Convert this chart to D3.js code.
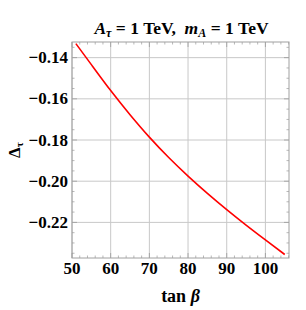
<!DOCTYPE html>
<html>
<head>
<meta charset="utf-8">
<script src="https://cdn.jsdelivr.net/npm/d3@7"></script>
<style>
  body { margin: 0; background: #fff; }
  text { font-family: "Liberation Serif", "DejaVu Serif", serif; font-weight: bold; }
</style>
</head>
<body>
<svg id="chart" width="306" height="310"></svg>
<script>
// curve
const tanBeta = [51, 55, 60, 65, 70, 75, 80, 85, 90, 95, 100, 105];
const deltaTau = [-0.1332, -0.1434, -0.156, -0.1677, -0.1786, -0.1885, -0.1975, -0.2059, -0.2138, -0.2213, -0.2285, -0.2356];

const xTicks = [50, 60, 70, 80, 90, 100];
const yTicks = [-0.14, -0.16, -0.18, -0.20, -0.22];

const svg = d3.select("#chart");
const margin = { top: 42, right: 17, bottom: 52, left: 72 };
const width = 306 - margin.left - margin.right;
const height = 310 - margin.top - margin.bottom;

const x = d3.scaleLinear().domain([50, 106.1]).range([0, width]);
const y = d3.scaleLinear().domain([-0.2373, -0.1324]).range([height, 0]);

const g = svg.append("g").attr("transform", `translate(${margin.left},${margin.top})`);

// grid
g.selectAll("line.gx").data(xTicks).enter().append("line")
  .attr("x1", d => x(d)).attr("x2", d => x(d))
  .attr("y1", 0).attr("y2", height)
  .attr("stroke", "#c8c8c8").attr("stroke-width", 1);
g.selectAll("line.gy").data(yTicks).enter().append("line")
  .attr("y1", d => y(d)).attr("y2", d => y(d))
  .attr("x1", 0).attr("x2", width)
  .attr("stroke", "#c8c8c8").attr("stroke-width", 1);

// minor + major ticks, all four sides, pointing inward
const xMinor = d3.range(50, 107, 2);
const yMinor = d3.range(-0.235, -0.13, 0.005);
function isMajor(v, list) { return list.some(t => Math.abs(t - v) < 1e-6); }

xMinor.forEach(v => {
  const len = isMajor(v, xTicks) ? 5 : 2.5;
  g.append("line").attr("x1", x(v)).attr("x2", x(v)).attr("y1", height).attr("y2", height - len)
    .attr("stroke", "#888").attr("stroke-width", 0.6);
  g.append("line").attr("x1", x(v)).attr("x2", x(v)).attr("y1", 0).attr("y2", len)
    .attr("stroke", "#888").attr("stroke-width", 0.6);
});
yMinor.forEach(v => {
  const len = isMajor(v, yTicks) ? 5 : 2.5;
  g.append("line").attr("x1", 0).attr("x2", len).attr("y1", y(v)).attr("y2", y(v))
    .attr("stroke", "#888").attr("stroke-width", 0.6);
  g.append("line").attr("x1", width).attr("x2", width - len).attr("y1", y(v)).attr("y2", y(v))
    .attr("stroke", "#888").attr("stroke-width", 0.6);
});

// frame
g.append("rect").attr("x", 0).attr("y", 0).attr("width", width).attr("height", height)
  .attr("fill", "none").attr("stroke", "#a0a0a0").attr("stroke-width", 1);

// tick labels
g.selectAll("text.xl").data(xTicks).enter().append("text")
  .attr("x", d => x(d)).attr("y", height + 16)
  .attr("text-anchor", "middle").style("font-size", "17px")
  .text(d => d);
g.selectAll("text.yl").data(yTicks).enter().append("text")
  .attr("x", -4).attr("y", d => y(d) + 5.5)
  .attr("text-anchor", "end").style("font-size", "17px")
  .text(d => "\u2212" + Math.abs(d).toFixed(2));

// curve
const line = d3.line().curve(d3.curveNatural)
  .x((d, i) => x(tanBeta[i])).y(d => y(d));
g.append("path").datum(deltaTau)
  .attr("d", line).attr("fill", "none")
  .attr("stroke", "#ff0000").attr("stroke-width", 1.6);

// title
const title = svg.append("text").attr("x", margin.left + width / 2 + 1).attr("y", 34)
  .attr("text-anchor", "middle").style("font-size", "17.5px");
title.append("tspan").style("font-style", "italic").text("A");
title.append("tspan").style("font-style", "italic").style("font-size", "12px").attr("dy", 3).text("\u03C4");
title.append("tspan").attr("dy", -3).text("\u00A0=\u00A01\u00A0TeV,\u00A0\u00A0");
title.append("tspan").style("font-style", "italic").text("m");
title.append("tspan").style("font-style", "italic").style("font-size", "12px").attr("dy", 3).text("A");
title.append("tspan").attr("dy", -3).text("\u00A0=\u00A01\u00A0TeV");

// x label
const xl = svg.append("text").attr("x", margin.left + width / 2).attr("y", 302)
  .attr("text-anchor", "middle").style("font-size", "18px");
xl.append("tspan").text("tan\u00A0");
xl.append("tspan").style("font-style", "italic").text("\u03B2");

// y label
const yl = svg.append("text").attr("transform", `translate(20,${margin.top + height / 2}) rotate(-90)`)
  .attr("text-anchor", "middle").style("font-size", "17px");
yl.append("tspan").text("\u0394");
yl.append("tspan").style("font-size", "11px").attr("dy", 3).text("\u03C4");
</script>
</body>
</html>
